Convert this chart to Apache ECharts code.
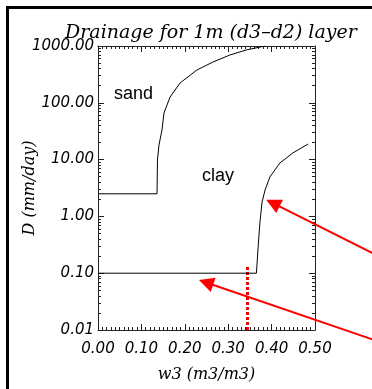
<!DOCTYPE html>
<html>
<head>
<meta charset="utf-8">
<script src="https://cdn.jsdelivr.net/npm/echarts@6/dist/echarts.min.js"></script>
<style>
  html, body { margin: 0; padding: 0; background: #fff; overflow: hidden; }
  #wrap { position: relative; width: 372px; height: 389px; overflow: hidden; }
  #chart { width: 372px; height: 389px; }
  #frame {
    position: absolute; left: 6px; top: 6px; width: 400px; height: 400px;
    border-left: 3px solid #000; border-top: 3px solid #000;
    pointer-events: none;
  }
</style>
</head>
<body>
<div id="wrap">
  <div id="chart"></div>
  <div id="frame"></div>
</div>
<script>
// sand curve
const sandX = [0, 0.136, 0.137, 0.1405, 0.1475, 0.152, 0.166, 0.189, 0.228, 0.265, 0.304, 0.341, 0.385]
const sandY = [2.5, 2.5, 9.8, 18.1, 33.2, 66, 126, 223, 378, 523, 694, 850, 1000]
// clay curve
const clayX = [0, 0.365, 0.369, 0.373, 0.378, 0.385, 0.396, 0.419, 0.449, 0.484]
const clayY = [0.1, 0.1, 0.29, 0.77, 1.79, 2.92, 4.94, 8.7, 13.1, 18.8]
// red dotted marker
const dotX = 0.345
const dotY = [0.01, 0.13]
// red arrows: [tail, head]
const arrows = [
  [[0.65, 0.193], [0.403, 1.72]],
  [[0.65, 0.00615], [0.249, 0.0686]]
]
const xTicks = [0, 0.5, 0.1]   // min, max, interval
const yRange = [0.01, 1000]

const zip = (xs, ys) => xs.map((x, i) => [x, ys[i]])

const labelFont = { fontFamily: 'DejaVu Sans', fontStyle: 'italic', fontSize: 15, color: '#000' }
const nameFont = { fontFamily: 'DejaVu Serif', fontStyle: 'italic', fontSize: 16, color: '#000' }
const axisLine = { show: true, onZero: false, lineStyle: { color: '#222', width: 1 } }
const tick = { show: true, inside: true, length: 6, lineStyle: { color: '#222' } }

function xAxisOf(pos, showLabel) {
  return {
    type: 'value', position: pos, gridIndex: 0,
    min: xTicks[0], max: xTicks[1], interval: xTicks[2],
    axisLine: axisLine, axisTick: tick,
    minorTick: { show: true, splitNumber: 10, length: 3, lineStyle: { color: '#222' } },
    splitLine: { show: false },
    axisLabel: Object.assign({ show: showLabel, margin: 12, formatter: v => v.toFixed(2) }, labelFont),
    name: showLabel ? 'w3 (m3/m3)' : '',
    nameLocation: 'middle', nameGap: 37, nameTextStyle: nameFont
  }
}
function yAxisOf(pos, showLabel) {
  return {
    type: 'log', logBase: 10, position: pos, gridIndex: 0,
    min: yRange[0], max: yRange[1],
    axisLine: axisLine, axisTick: tick,
    minorTick: { show: true, splitNumber: 9, length: 3, lineStyle: { color: '#222' } },
    splitLine: { show: false },
    axisLabel: Object.assign({ show: showLabel, margin: 4, formatter: v => v.toFixed(2) }, labelFont),
    name: showLabel ? 'D (mm/day)' : '',
    nameLocation: 'middle', nameGap: 60, nameMoveOverlap: false, nameTextStyle: nameFont
  }
}

const chart = echarts.init(document.getElementById('chart'), null, { renderer: 'canvas' })
const option = {
  animation: false,
  title: {
    text: 'Drainage for 1m (d3\u2013d2) layer',
    left: 60, top: 19,
    textStyle: { fontFamily: 'DejaVu Serif', fontStyle: 'italic', fontWeight: 'normal', fontSize: 19, color: '#000' }
  },
  grid: { left: 98, right: 57, top: 46, bottom: 59, outerBoundsMode: 'none' },
  xAxis: [xAxisOf('bottom', true), xAxisOf('top', false)],
  yAxis: [yAxisOf('left', true), yAxisOf('right', false)],
  graphic: [
    { type: 'text', left: 114, top: 85, style: { text: 'sand', fontFamily: 'Liberation Sans', fontSize: 18, fill: '#000' } },
    { type: 'text', left: 202, top: 167, style: { text: 'clay', fontFamily: 'Liberation Sans', fontSize: 18, fill: '#000' } }
  ],
  series: [
    {
      name: 'sand', type: 'line', showSymbol: false, silent: true,
      lineStyle: { color: '#000', width: 1 },
      data: zip(sandX, sandY)
    },
    {
      name: 'clay', type: 'line', showSymbol: false, silent: true,
      lineStyle: { color: '#000', width: 1 },
      data: zip(clayX, clayY)
    },
    {
      name: 'marker', type: 'lines', coordinateSystem: 'cartesian2d', silent: true, clip: false,
      lineStyle: { color: '#e00', width: 3, type: [3, 2], opacity: 1 },
      data: [{ coords: [[dotX, dotY[0]], [dotX, dotY[1]]] }]
    },
    {
      name: 'arrows', type: 'lines', coordinateSystem: 'cartesian2d', silent: true, clip: false,
      symbol: ['none', 'triangle'], symbolSize: 15,
      lineStyle: { color: '#f00', width: 2, opacity: 1 },
      itemStyle: { color: '#f00' },
      data: arrows.map(a => ({ coords: a }))
    }
  ]
}
chart.setOption(option)
</script>
</body>
</html>
